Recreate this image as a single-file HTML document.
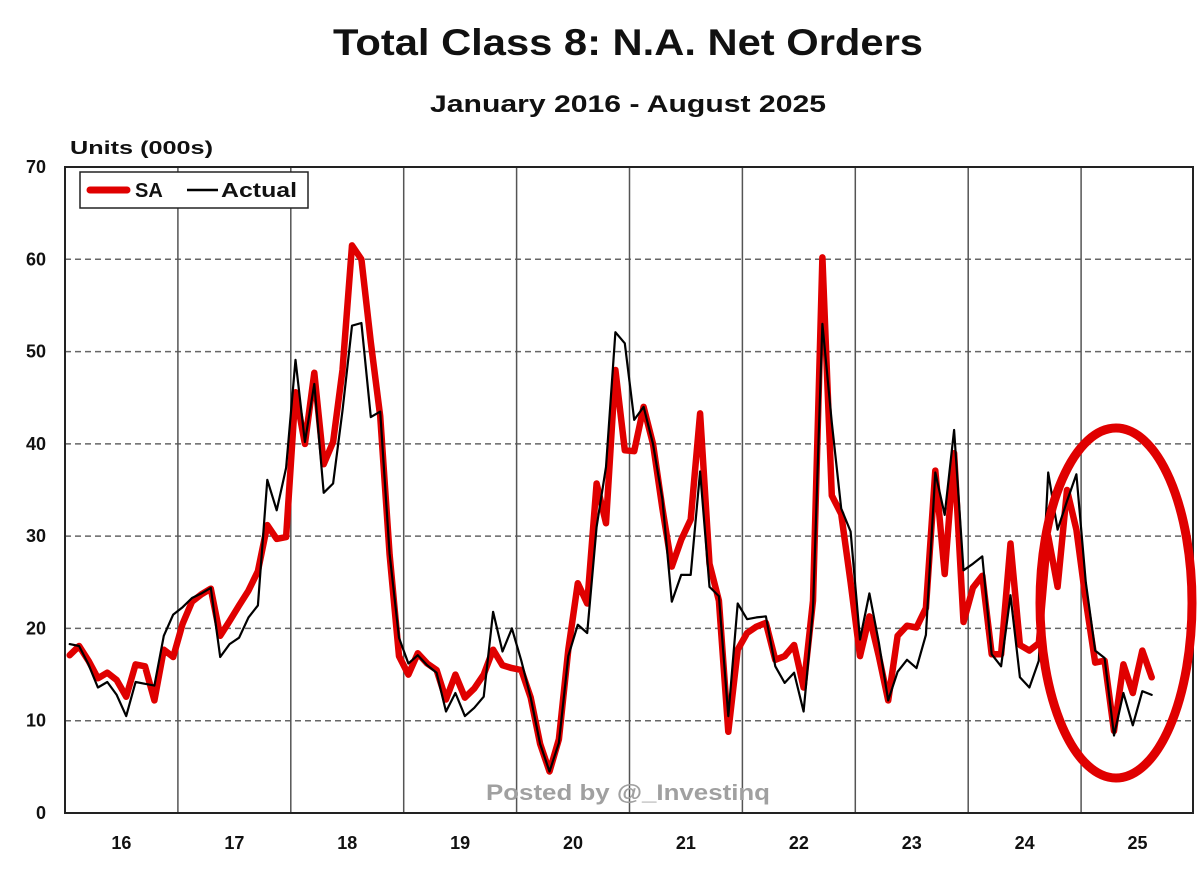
<!DOCTYPE html>
<html><head><meta charset="utf-8">
<style>
html,body{margin:0;padding:0;background:#fff;}
svg{display:block;font-family:"Liberation Sans",Arial,sans-serif;}
</style></head>
<body>
<svg id="chart" width="1200" height="881" viewBox="0 0 1200 881" xmlns="http://www.w3.org/2000/svg">
<text x="333" y="55" textLength="590" lengthAdjust="spacingAndGlyphs" font-size="37" font-weight="bold" fill="#111">Total Class 8: N.A. Net Orders</text>
<text x="430" y="112" textLength="396" lengthAdjust="spacingAndGlyphs" font-size="24" font-weight="bold" fill="#111">January 2016 - August 2025</text>
<text x="70" y="154" textLength="143" lengthAdjust="spacingAndGlyphs" font-size="18" font-weight="bold" fill="#111">Units (000s)</text>
<g id="grid"></g>
<g id="series"></g>
<rect x="65" y="167" width="1128" height="646" fill="none" stroke="#222" stroke-width="2"/>
<g>
<rect x="80" y="172" width="228" height="36" fill="#fff" stroke="#222" stroke-width="1.5"/>
<line x1="90" y1="190" x2="127" y2="190" stroke="#e00000" stroke-width="7" stroke-linecap="round"/>
<text x="135" y="197" font-size="20" font-weight="bold" fill="#111">SA</text>
<line x1="187" y1="190" x2="218" y2="190" stroke="#000" stroke-width="2.5"/>
<text x="221" y="197" textLength="76" lengthAdjust="spacingAndGlyphs" font-size="20" font-weight="bold" fill="#111">Actual</text>
</g>
<text x="486" y="800" textLength="284" lengthAdjust="spacingAndGlyphs" font-size="22" font-weight="bold" fill="#a0a0a0">Posted by @_Investinq</text>
<ellipse cx="1116" cy="603" rx="76" ry="175" fill="none" stroke="#e00000" stroke-width="9"/>
</svg>
<script>
const years = ["16","17","18","19","20","21","22","23","24","25"];
const yTicks = [0,10,20,30,40,50,60,70];
const saValues = [
17.1,18.1,16.5,14.6,15.2,14.4,12.6,16.1,15.9,12.2,17.7,16.9,
20.5,22.9,23.7,24.3,19.2,20.8,22.5,24.1,26.2,31.2,29.7,29.9,
45.6,40,47.7,37.8,40.2,48,61.5,60,51,43,28,17,
15,17.3,16.2,15.5,12.3,15,12.5,13.5,15,17.7,16,15.7,
15.5,12.5,7.5,4.5,8,17.7,24.9,22.7,35.7,31.4,48,39.3,
39.2,44,40,33,26.7,29.6,31.8,43.3,27,23,8.8,17.7,
19.5,20.2,20.6,16.6,17,18.2,13.6,23,60.2,34.4,32.4,25,
17,21.3,17,12.2,19.2,20.3,20.1,22.2,37.1,25.9,39,20.7,
24.4,25.7,17.2,17.2,29.2,18.2,17.6,18.4,30,24.5,35,30.7,
23,16.3,16.5,8.9,16.1,13,17.6,14.7];
const actualValues = [
18.3,18.1,16.1,13.6,14.2,12.8,10.5,14.2,14,13.8,19.2,21.5,
22.3,23.3,23.8,24.4,16.9,18.3,19,21.2,22.5,36.1,32.8,37.4,
49.1,40.2,46.5,34.7,35.7,43.6,52.8,53.1,42.9,43.5,28.1,19,
16.2,17.1,16,15.2,11,13,10.5,11.4,12.6,21.8,17.5,20,
16.5,12.5,7.5,4.5,7.6,17,20.4,19.5,31,37.5,52.1,50.9,
42.6,44,40,34,22.9,25.8,25.8,37,24.5,23.5,10.5,22.7,
21,21.2,21.3,15.9,14.1,15.2,11,22,53,42.3,33,30.5,
18.8,23.8,18.5,12.2,15.3,16.6,15.7,19.3,36.9,32.3,41.5,26.3,
27,27.8,17.2,15.9,23.6,14.7,13.6,16.5,36.9,30.7,33.8,36.7,
25,17.6,16.8,8.4,13,9.5,13.2,12.8];

const NS="http://www.w3.org/2000/svg";
const plotLeft=65, plotRight=1193, plotTop=167, plotBottom=813, yMax=70;
const yearW=112.9;
function yScale(v){return plotBottom-(v/yMax)*(plotBottom-plotTop);}
function xScale(i){return plotLeft+(i+0.5)*yearW/12;}
const grid=document.getElementById('grid');
yTicks.forEach(t=>{
  const y=yScale(t);
  if(t>0&&t<70){
    const l=document.createElementNS(NS,'line');
    
    
    l.setAttribute('x1',plotLeft);l.setAttribute('x2',plotRight);l.setAttribute('y1',y);l.setAttribute('y2',y);
    l.setAttribute('stroke','#666');l.setAttribute('stroke-width','1.5');l.setAttribute('stroke-dasharray','6 4');
    grid.appendChild(l);
  }
  const tx=document.createElementNS(NS,'text');
  
  
  tx.setAttribute('x',46);tx.setAttribute('y',y+6);tx.setAttribute('text-anchor','end');
  tx.setAttribute('font-size','18');tx.setAttribute('font-weight','bold');tx.setAttribute('fill','#111');
  tx.textContent=t;grid.appendChild(tx);
});
years.forEach((yr,k)=>{
  const x0=plotLeft+k*yearW;
  if(k>0){
    const l=document.createElementNS(NS,'line');
    
    
    l.setAttribute('x1',x0);l.setAttribute('x2',x0);l.setAttribute('y1',plotTop);l.setAttribute('y2',plotBottom);
    l.setAttribute('stroke','#555');l.setAttribute('stroke-width','1.5');
    grid.appendChild(l);
  }
  const tx=document.createElementNS(NS,'text');
  
  
  tx.setAttribute('x',x0+yearW/2);tx.setAttribute('y',849);tx.setAttribute('text-anchor','middle');
  tx.setAttribute('font-size','18');tx.setAttribute('font-weight','bold');tx.setAttribute('fill','#111');
  tx.textContent=yr;grid.appendChild(tx);
});
const ser=document.getElementById('series');
function addLine(vals,color,w,name){
  const p=document.createElementNS(NS,'polyline');
  
  
  p.setAttribute('points',vals.map((v,i)=>xScale(i).toFixed(1)+','+yScale(v).toFixed(1)).join(' '));
  p.setAttribute('fill','none');p.setAttribute('stroke',color);p.setAttribute('stroke-width',w);
  p.setAttribute('stroke-linejoin','round');p.setAttribute('stroke-linecap','round');
  ser.appendChild(p);
}
addLine(saValues,'#e00000',6.5,'sa-series-line');
addLine(actualValues,'#000',2.2,'actual-series-line');
</script>
</body></html>
